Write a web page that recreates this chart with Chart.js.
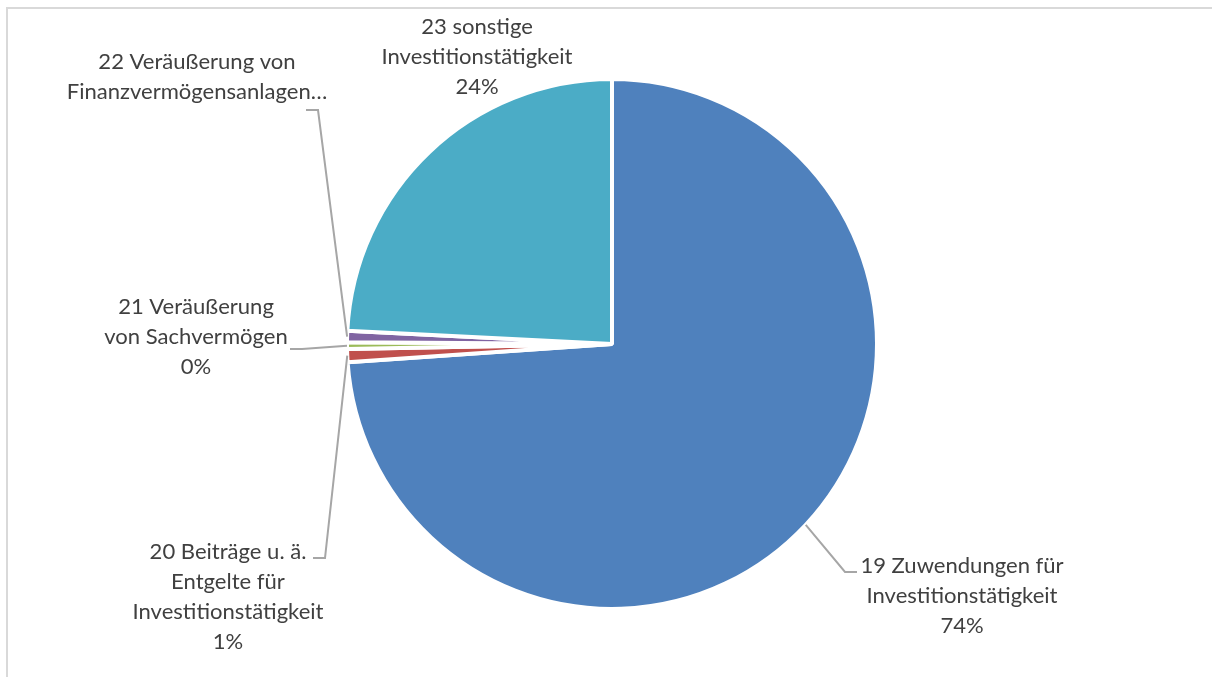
<!DOCTYPE html>
<html>
<head>
<meta charset="utf-8">
<script src="https://cdn.jsdelivr.net/npm/chart.js@4.4.1/dist/chart.umd.min.js"></script>
<style>
  html, body { margin: 0; padding: 0; background: #fff; }
  #wrap { position: relative; width: 1212px; height: 677px; overflow: hidden; }
  #frame { position: absolute; left: 6px; top: 7px; width: 1300px; height: 800px;
           border-top: 2px solid #D9D9D9; border-left: 2px solid #D9D9D9; box-sizing: border-box; }
  canvas { position: absolute; left: 0; top: 0; }
</style>
</head>
<body>
<div id="wrap">
  <div id="frame"></div>
  <canvas id="c" width="1212" height="677"></canvas>
</div>
<script>
// ---- data ----
const categories = [
  "19 Zuwendungen für Investitionstätigkeit",
  "20 Beiträge u. ä. Entgelte für Investitionstätigkeit",
  "21 Veräußerung von Sachvermögen",
  "22 Veräußerung von Finanzvermögensanlagen",
  "23 sonstige Investitionstätigkeit"
];
const shares = [73.9, 0.8, 0.4, 0.7, 24.2];
const colors = ["#4F81BD", "#C0504D", "#9BBB59", "#8064A2", "#4BACC6"];
const labelLines = [
  ["19 Zuwendungen für", "Investitionstätigkeit"],
  ["20 Beiträge u. ä.", "Entgelte für", "Investitionstätigkeit"],
  ["21 Veräußerung", "von Sachvermögen"],
  ["22 Veräußerung von", "Finanzvermögensanlagen…"],
  ["23 sonstige", "Investitionstätigkeit"]
];
const showPercent = [true, true, true, false, true];

// ---- label layout (positions of text blocks and leader elbows) ----
const labelLayout = [
  { x: 962, y: 566, leader: [[857, 572], [845, 572]] },
  { x: 228, y: 552, leader: [[313, 558], [325, 558]] },
  { x: 196, y: 307, leader: [[290, 349], [302, 349]] },
  { x: 197, y: 62,  leader: [[306, 110], [318, 110]] },
  { x: 477, y: 27,  leader: null }
];
const LINE_H = 30;

const labelPlugin = {
  id: 'excelLabels',
  afterDatasetsDraw(chart) {
    const ctx = chart.ctx;
    const meta = chart.getDatasetMeta(0);
    const data = chart.data.datasets[0].data;
    const total = data.reduce((a, b) => a + b, 0);
    ctx.save();
    ctx.font = '24px Lato';
    const w = ctx.measureText('Investitionstätigkeit').width;
    const fs = 24 * 191 / w;
    // leaders
    ctx.strokeStyle = '#A6A6A6';
    ctx.lineWidth = 2;
    meta.data.forEach((arc, i) => {
      const L = labelLayout[i];
      if (!L.leader) return;
      const p = arc.getProps(['x', 'y', 'startAngle', 'endAngle', 'outerRadius'], true);
      const mid = (p.startAngle + p.endAngle) / 2;
      const ex = p.x + Math.cos(mid) * p.outerRadius;
      const ey = p.y + Math.sin(mid) * p.outerRadius;
      ctx.beginPath();
      ctx.moveTo(L.leader[0][0], L.leader[0][1]);
      for (let k = 1; k < L.leader.length; k++) ctx.lineTo(L.leader[k][0], L.leader[k][1]);
      ctx.lineTo(ex, ey);
      ctx.stroke();
    });
    // texts
    ctx.fillStyle = '#404040';
    ctx.font = fs.toFixed(2) + 'px Lato';
    ctx.textAlign = 'center';
    ctx.textBaseline = 'middle';
    meta.data.forEach((arc, i) => {
      const L = labelLayout[i];
      const lines = labelLines[i].slice();
      if (showPercent[i]) lines.push(Math.round(data[i] / total * 100) + '%');
      lines.forEach((t, k) => ctx.fillText(t, L.x, L.y + k * LINE_H));
    });
    ctx.restore();
  }
};

new Chart(document.getElementById('c'), {
  type: 'pie',
  data: {
    labels: categories,
    datasets: [{
      data: shares,
      backgroundColor: colors,
      borderColor: '#FFFFFF',
      borderWidth: 4
    }]
  },
  options: {
    responsive: false,
    animation: false,
    layout: { padding: { top: 77, bottom: 66, left: 345, right: 333 } },
    plugins: { legend: { display: false }, tooltip: { enabled: false } }
  },
  plugins: [labelPlugin]
});
</script>
</body>
</html>
